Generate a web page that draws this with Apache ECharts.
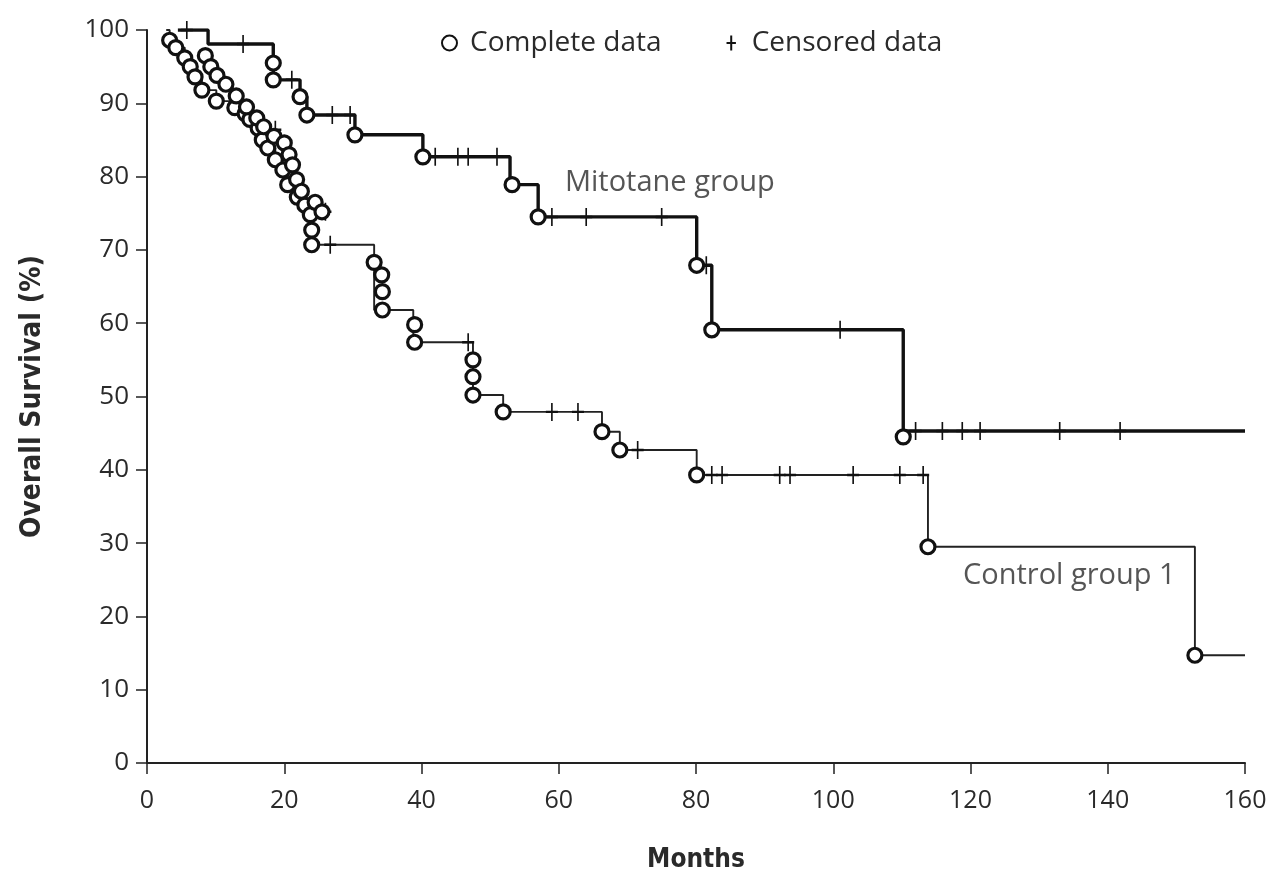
<!DOCTYPE html>
<html>
<head>
<meta charset="utf-8">
<script src="https://cdn.jsdelivr.net/npm/echarts@6/dist/echarts.min.js"></script>
<style>
html,body{margin:0;padding:0;background:#fff;}
#chart{width:1273px;height:873px;}
</style>
</head>
<body>
<div id="chart"></div>
<script>
// ---- Data (months, overall survival %) ----
const xTicks = [0, 20, 40, 60, 80, 100, 120, 140, 160];
const yTicks = [0, 10, 20, 30, 40, 50, 60, 70, 80, 90, 100];

// Mitotane group: step curve vertices [month, survival after step]
const mitotaneCurve = [
  [4.5, 100], [8.9, 98.1], [18.4, 93.2], [22.3, 90.9], [23.3, 88.4], [30.3, 85.7],
  [40.2, 82.7], [52.9, 78.9], [57.0, 74.5], [80.1, 67.9], [82.3, 59.1],
  [110.2, 45.3], [160, 45.3]
];
const mitotaneEvents = [
  [18.4, 95.5], [18.4, 93.2], [22.3, 90.9], [23.3, 88.4], [30.3, 85.7], [40.2, 82.7],
  [53.2, 78.9], [57.0, 74.5], [80.1, 67.9], [82.3, 59.1], [110.2, 44.5]
];
const mitotaneCensored = [
  [5.8, 100], [14.0, 98.1], [21.1, 93.2], [27.0, 88.4], [29.6, 88.4],
  [42.0, 82.7], [45.3, 82.7], [46.8, 82.7], [51.0, 82.7],
  [59.0, 74.5], [64.0, 74.5], [75.0, 74.5], [81.5, 67.9], [101.0, 59.1],
  [112.0, 45.3], [115.9, 45.3], [118.8, 45.3], [121.4, 45.3], [133.0, 45.3], [141.8, 45.3]
];

// Control group 1
const controlCurve = [
  [2.8, 100], [3.3, 98.6], [4.2, 97.6], [5.5, 96.2], [6.3, 95.0], [7.0, 93.6], [8.0, 91.8],
  [10.1, 90.3], [12.8, 89.4], [14.3, 88.6], [15.0, 87.8], [16.2, 86.6], [16.8, 85.0],
  [17.6, 83.9], [18.7, 82.3], [19.8, 80.9], [20.5, 78.9], [21.9, 77.2], [23.0, 76.1],
  [23.8, 74.8], [24.0, 70.7], [33.1, 61.8], [38.8, 57.4], [47.5, 50.2], [51.9, 47.9],
  [66.3, 45.2], [68.9, 42.7], [80.1, 39.3], [113.8, 29.5], [152.7, 14.7], [160, 14.7]
];
const controlEvents = [
  [3.3, 98.6], [4.2, 97.6], [5.5, 96.2], [6.3, 95.0], [7.0, 93.6], [8.0, 91.8],
  [10.1, 90.3], [12.8, 89.4], [14.3, 88.6], [15.0, 87.8], [16.2, 86.6], [16.8, 85.0],
  [17.6, 83.9], [18.7, 82.3], [19.8, 80.9], [20.5, 78.9], [21.9, 77.2], [23.0, 76.1],
  [23.8, 74.8], [24.0, 72.7], [24.0, 70.7],
  [33.1, 68.3], [34.2, 66.6], [34.3, 64.3], [34.3, 61.8], [39.0, 59.8], [39.0, 57.4],
  [47.5, 55.0], [47.5, 52.7], [47.5, 50.2], [51.9, 47.9], [66.3, 45.2], [68.9, 42.7],
  [80.1, 39.3], [113.8, 29.5], [152.7, 14.7]
];
const controlExtraEvents = [
  [8.5, 96.5], [9.3, 95.0], [10.2, 93.8], [11.5, 92.6], [13.0, 91.0], [14.5, 89.5],
  [16.0, 88.0], [17.0, 86.8], [18.5, 85.5], [20.0, 84.6], [20.7, 83.0], [21.2, 81.6],
  [21.8, 79.6], [22.5, 78.0], [24.5, 76.5], [25.5, 75.2]
];
const controlCensored = [
  [18.7, 86.4], [24.9, 76.1], [26.0, 75.2], [26.7, 70.7], [46.8, 57.4],
  [59.0, 47.9], [62.8, 47.9], [71.5, 42.7], [82.3, 39.3], [83.8, 39.3], [92.2, 39.3],
  [93.7, 39.3], [102.9, 39.3], [109.7, 39.3], [113.1, 39.3]
];

const annotations = [
  [60.9, 79.1, 'Mitotane group'],
  [118.9, 25.5, 'Control group 1']
];

const plusPath = 'path://M5,0L5,16M0,8L10,8';
const txt = '#2a2a2a';
const font = 'Open Sans';

const chart = echarts.init(document.getElementById('chart'), null, {renderer: 'canvas'});
chart.setOption({
  backgroundColor: '#fff',
  animation: false,
  grid: {left: 147, right: 28, top: 30, bottom: 110, containLabel: false, outerBoundsMode: 'none'},
  legend: {
    data: ['Complete data', 'Censored data'],
    top: 24, left: 436, itemGap: 64, itemWidth: 15, itemHeight: 15,
    textStyle: {fontSize: 28, color: txt, fontFamily: font, padding: [0, 0, 0, 8]}
  },
  xAxis: {
    type: 'value', min: 0, max: 160, interval: 20,
    name: 'Months', nameLocation: 'middle', nameGap: 84,
    nameTextStyle: {fontSize: 26, fontWeight: 'bold', color: txt, fontFamily: 'DejaVu Sans Condensed'},
    axisLine: {lineStyle: {color: '#222', width: 2}},
    axisTick: {length: 11, lineStyle: {color: '#222', width: 1.5}},
    axisLabel: {fontSize: 25, color: txt, fontFamily: font, margin: 25,
      formatter: v => xTicks.includes(v) ? String(v) : ''},
    splitLine: {show: false}
  },
  yAxis: {
    type: 'value', min: 0, max: 100, interval: 10,
    name: 'Overall Survival (%)', nameLocation: 'middle', nameGap: 100,
    nameTextStyle: {fontSize: 28, fontWeight: 'bold', color: txt, fontFamily: 'DejaVu Sans Condensed'},
    axisLine: {show: true, lineStyle: {color: '#222', width: 2}},
    axisTick: {show: true, length: 11, lineStyle: {color: '#222', width: 1.5}},
    axisLabel: {fontSize: 26, color: txt, fontFamily: font, margin: 18,
      formatter: v => yTicks.includes(v) ? String(v) : ''},
    splitLine: {show: false}
  },
  series: [
    {
      name: 'Mitotane group', type: 'line', step: 'end', data: mitotaneCurve,
      showSymbol: false, symbol: 'none', lineStyle: {color: '#111', width: 3.4}, z: 2
    },
    {
      name: 'Control group 1', type: 'line', step: 'end', data: controlCurve,
      showSymbol: false, symbol: 'none', lineStyle: {color: '#222', width: 1.9}, z: 2
    },
    {
      name: 'Complete data', type: 'scatter',
      data: mitotaneEvents.concat(controlEvents, controlExtraEvents),
      symbol: 'circle', symbolSize: 14,
      itemStyle: {color: '#fff', borderColor: '#111', borderWidth: 3.2, opacity: 1}, z: 4
    },
    {
      name: 'Censored data', type: 'scatter',
      data: mitotaneCensored.concat(controlCensored),
      symbol: plusPath, symbolSize: [12, 18], symbolKeepAspect: false,
      itemStyle: {color: 'rgba(0,0,0,0)', borderColor: '#111', borderWidth: 2, opacity: 1}, z: 3
    },
    {
      name: 'labels', type: 'scatter', data: annotations, symbolSize: 0,
      silent: true,
      label: {show: true, position: 'right', distance: 0, formatter: p => p.data[2],
        fontSize: 29, color: txt, fontFamily: font}, z: 5
    }
  ]
});
</script>
</body>
</html>
